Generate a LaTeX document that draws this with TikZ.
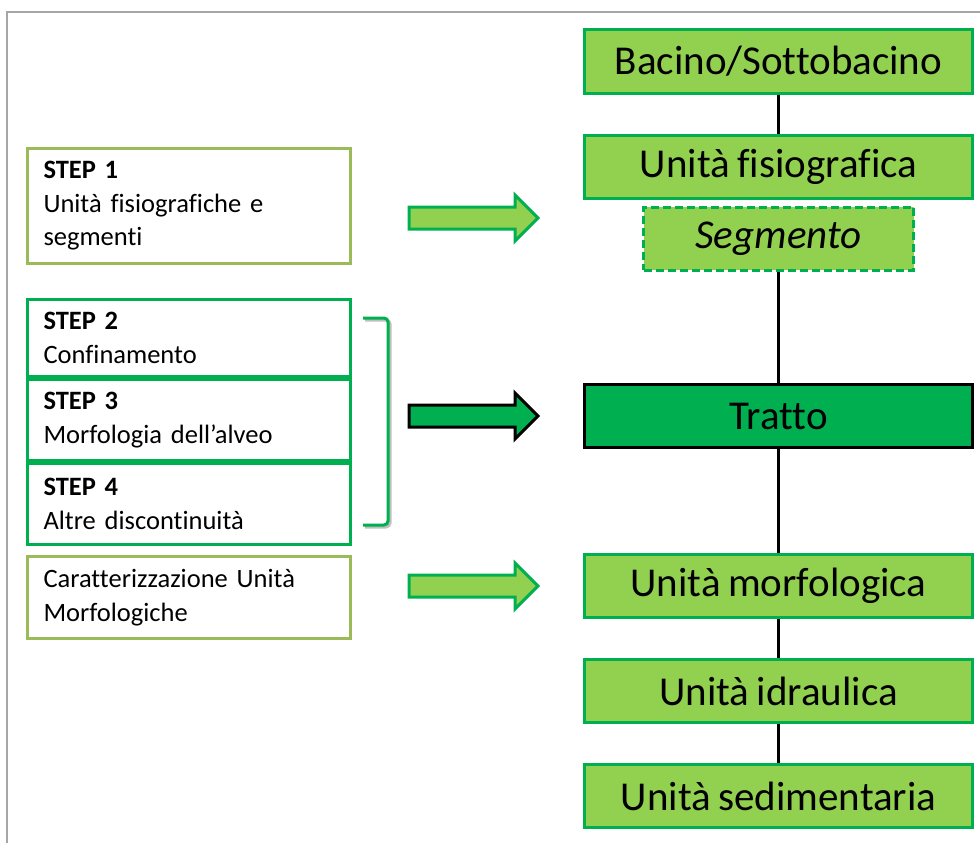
\documentclass[tikz,border=0pt]{standalone}
\usepackage{fontspec}
\setmainfont[Ligatures=NoCommon, WordSpace=0.8]{Carlito}
\usetikzlibrary{positioning}
\usetikzlibrary{shapes.arrows}
\tikzset{>=latex}
\definecolor{lightgreen}{HTML}{92D050}
\definecolor{darkgreen}{HTML}{00B050}
\definecolor{olivegreen}{HTML}{9BBB59}

\begin{document}
\begin{tikzpicture}[x=1pt, y=1pt,
	unit/.style={rectangle, draw=darkgreen, fill=lightgreen, line width=3pt, minimum width=388pt, minimum height=63pt, inner sep=0pt, font=\fontsize{41}{48}\selectfont},
	stepbox/.style={rectangle, draw=darkgreen, line width=3pt, minimum width=323pt, text width=291pt, align=left, inner xsep=16pt, inner ysep=2pt, font=\fontsize{26.5}{33.5}\selectfont},
	blockarrow/.style={single arrow, draw=darkgreen, fill=lightgreen, line width=3pt, minimum height=129pt, minimum width=43pt, single arrow head extend=12pt, inner xsep=0pt, inner ysep=9.5pt, xshift=-6pt},
	link/.style={line width=3pt, black},
	node distance=105pt, on grid]
		\useasboundingbox (0,0) rectangle (980,-843);
		\draw[gray!70, line width=1.5pt] (980,-12) -- (7,-12) -- (7,-843);

		% right column
		\node[unit] (bacino) at (778.5,-61.5) {Bacino/Sottobacino};
		\node[unit] (fisio) [below=of bacino] {Unità fisiografica};
		\node[unit, dash pattern=on 8pt off 4pt, minimum width=270pt] (segmento) [below=72pt of fisio] {\itshape Segmento};
		\node[unit, draw=black, fill=darkgreen] (tratto) [below=177.5pt of segmento] {Tratto};
		\node[unit] (morfo) [below=170pt of tratto] {Unità morfologica};
		\node[unit] (idra) [below=of morfo] {Unità idraulica};
		\node[unit] (sedi) [below=of idra] {Unità sedimentaria};

		% steps
		\node[stepbox, draw=olivegreen, minimum height=115pt] (step1) at (189,-206) {\textbf{STEP 1}\\Unità fisiografiche e\\segmenti};
		\node[stepbox, minimum height=77pt] (step2) at (189,-338) {\textbf{STEP 2}\\Confinamento};
		\node[stepbox, minimum height=81pt] (step3) [below=82pt of step2] {\textbf{STEP 3}\\Morfologia dell’alveo};
		\node[stepbox, minimum height=81pt] (step4) [below=84pt of step3] {\textbf{STEP 4}\\Altre discontinuità};
		\node[stepbox, draw=olivegreen, minimum height=82pt] (carat) [below=93.5pt of step4] {Caratterizzazione Unità\\Morfologiche};

		% arrows
		\node[blockarrow] (arr1) at (474,-218) {};
		\node[blockarrow, draw=black, fill=darkgreen] (arr2) [left=304.5pt of tratto] {};
		\node[blockarrow] (arr3) [left=304.5pt of morfo] {};

		\draw[black!25, line width=3pt, rounded corners=4pt] (365,-320) -- (390,-320) -- (390,-527) -- (365,-527);
		\draw[darkgreen, line width=3pt, rounded corners=4pt] (363,-318) -- (388,-318) -- (388,-525) -- (363,-525);

		\path[link]
			(bacino) edge (fisio)
			(segmento) edge (tratto)
			(tratto) edge (morfo)
			(morfo) edge (idra)
			(idra) edge (sedi);
	\end{tikzpicture}
\end{document}
